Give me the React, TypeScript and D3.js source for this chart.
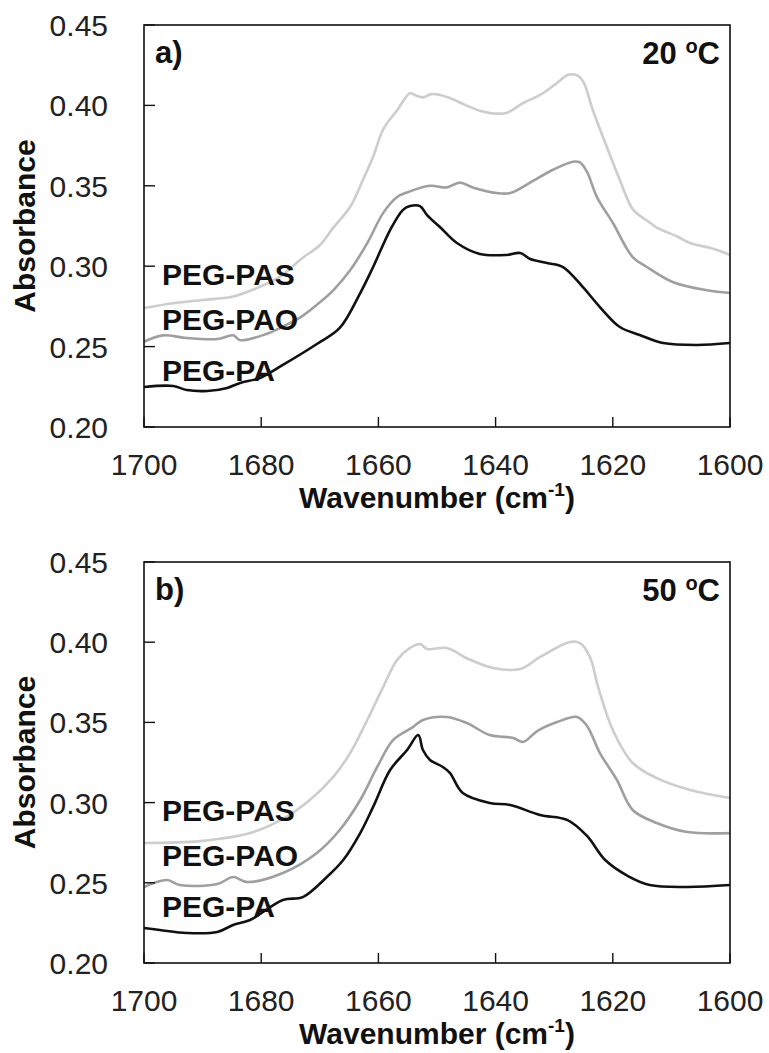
import React from "react";
import * as d3 from "d3";

type Pt = [number, number];

// x ticks and y ticks
const xTicks = [1700, 1680, 1660, 1640, 1620, 1600];
const yTicks = [0.2, 0.25, 0.3, 0.35, 0.4, 0.45];
const seriesNames = ["PEG-PAS", "PEG-PAO", "PEG-PA"];
const seriesColors = ["#cdcdcd", "#9f9f9f", "#111111"];
const labelLevels = [0.2883, 0.2606, 0.2285];

// Panel a) 20 oC  [wavenumber, absorbance]
const a_PAS: Pt[] = [
  [1700, 0.274], [1695, 0.277], [1690, 0.279], [1685, 0.281], [1681, 0.286], [1677, 0.293],
  [1673, 0.305], [1670, 0.313], [1667.7, 0.324], [1664.8, 0.337], [1662.6, 0.354], [1660.9, 0.368],
  [1659.2, 0.385], [1656.8, 0.397], [1654.6, 0.4075], [1653.5, 0.406], [1652.4, 0.405], [1651, 0.407],
  [1649.5, 0.4065], [1647.8, 0.4046], [1645, 0.4], [1642.5, 0.3965], [1640.4, 0.395], [1638, 0.3955],
  [1635.3, 0.4015], [1632.4, 0.4065], [1629.5, 0.414], [1627.6, 0.419], [1626, 0.4185], [1625, 0.4145],
  [1623.4, 0.397], [1621, 0.374], [1618.8, 0.3536], [1616.5, 0.335], [1614, 0.328], [1612.5, 0.324],
  [1609, 0.3185], [1606.8, 0.3144], [1603, 0.311], [1600, 0.307],
];
const a_PAO: Pt[] = [
  [1700, 0.253], [1696.8, 0.257], [1692.7, 0.2553], [1687.5, 0.2547], [1684.8, 0.257], [1683.6, 0.254],
  [1679, 0.258], [1676, 0.263], [1673, 0.269], [1670.5, 0.276], [1667.7, 0.285], [1664.8, 0.2976],
  [1661.9, 0.3144], [1659.2, 0.333], [1656.8, 0.343], [1655, 0.346], [1651.2, 0.35], [1648.3, 0.349],
  [1646.1, 0.352], [1643.9, 0.349], [1639.8, 0.3455], [1637.5, 0.3455], [1634.1, 0.352], [1630.2, 0.36],
  [1626.8, 0.365], [1625.6, 0.3645], [1624.4, 0.3586], [1622.7, 0.343], [1620, 0.327], [1616.6, 0.3057],
  [1614.2, 0.2995], [1609.7, 0.29], [1603.9, 0.285], [1600, 0.2833],
];
const a_PA: Pt[] = [
  [1700, 0.2249], [1695, 0.2255], [1692.7, 0.223], [1689.2, 0.2224], [1685.8, 0.2243], [1683.6, 0.2274],
  [1680.2, 0.2305], [1676.3, 0.2386], [1670.5, 0.2516], [1666.6, 0.2616], [1663.1, 0.2833], [1660.9, 0.2995],
  [1658, 0.3225], [1655.8, 0.335], [1654.6, 0.3374], [1652.9, 0.3374], [1651.7, 0.3318], [1649.5, 0.3244],
  [1646.6, 0.3144], [1642.7, 0.3076], [1638.1, 0.307], [1635.8, 0.3082], [1634.1, 0.3045], [1631.2, 0.302],
  [1628.5, 0.2995], [1625.1, 0.287], [1622.2, 0.2746], [1618.8, 0.2622], [1615.4, 0.2572], [1611.4, 0.2522],
  [1605.6, 0.251], [1600, 0.2522],
];

// Panel b) 50 oC
const b_PAS: Pt[] = [
  [1700, 0.2748], [1690.4, 0.276], [1681.9, 0.281], [1676.3, 0.2898], [1671.7, 0.3016], [1667.7, 0.316],
  [1664.8, 0.331], [1661.9, 0.3515], [1659.2, 0.372], [1656.8, 0.389], [1654.6, 0.3964], [1652.9, 0.3989],
  [1651.7, 0.3958], [1648.3, 0.3964], [1644.9, 0.39], [1640.4, 0.3839], [1635.8, 0.3833], [1632.4, 0.3908],
  [1627.3, 0.4001], [1625.6, 0.3995], [1623.9, 0.3908], [1622.5, 0.372], [1620, 0.3453], [1616.6, 0.3247],
  [1612.5, 0.3153], [1606.8, 0.3079], [1600, 0.3029],
];
const b_PAO: Pt[] = [
  [1700, 0.2474], [1696.1, 0.2517], [1693.9, 0.2486], [1687.5, 0.2492], [1684.8, 0.2536], [1682.4, 0.2505],
  [1676.3, 0.2561], [1670.5, 0.2686], [1666.6, 0.2829], [1663.1, 0.3016], [1660.2, 0.3222], [1657.5, 0.339],
  [1654.1, 0.3471], [1652.4, 0.3515], [1648.3, 0.3534], [1644.9, 0.3496], [1641, 0.3421], [1637, 0.3403],
  [1635.3, 0.3378], [1632.9, 0.3446], [1629.5, 0.3502], [1626.1, 0.3534], [1624.4, 0.3478], [1622.2, 0.3309],
  [1619.3, 0.3141], [1616.6, 0.2954], [1612.5, 0.2873], [1607.3, 0.2817], [1600, 0.281],
];
const b_PA: Pt[] = [
  [1700, 0.2218], [1697.3, 0.2206], [1692.7, 0.2187], [1687.5, 0.2193], [1684.8, 0.2237], [1681.9, 0.2268],
  [1676.3, 0.2393], [1672.9, 0.2411], [1668.8, 0.2536], [1666, 0.2642], [1663.1, 0.281], [1660.9, 0.2973],
  [1658, 0.3203], [1655.1, 0.3328], [1653.2, 0.3421], [1652.4, 0.3328], [1651.2, 0.3266], [1649, 0.3222],
  [1647.8, 0.3185], [1645.6, 0.306], [1641, 0.2998], [1637.5, 0.2985], [1632.4, 0.2923], [1627.8, 0.2892],
  [1624.4, 0.2792], [1621.3, 0.2642], [1617.4, 0.2542], [1613.7, 0.2486], [1607.3, 0.2474], [1600, 0.2486],
];

const panels = [
  { tag: "a)", temp: "20", series: [a_PAS, a_PAO, a_PA], top: 25, bottom: 427 },
  { tag: "b)", temp: "50", series: [b_PAS, b_PAO, b_PA], top: 562, bottom: 963 },
];

const FONT = "'Liberation Sans', Arial, sans-serif";
const LEFT = 144;
const RIGHT = 730;

function Panel({ p }: { p: (typeof panels)[number] }) {
  const x = d3.scaleLinear().domain([1700, 1600]).range([LEFT, RIGHT]);
  const y = d3.scaleLinear().domain([0.2, 0.45]).range([p.bottom, p.top]);
  const line = d3
    .line<Pt>()
    .x((d) => x(d[0]))
    .y((d) => y(d[1]))
    .curve(d3.curveCatmullRom.alpha(0.5));
  return (
    <g>
      {p.series.map((s, i) => (
        <path key={i} d={line(s) || ""} fill="none" stroke={seriesColors[i]} strokeWidth={2.6} strokeLinejoin="round" />
      ))}
      <rect x={LEFT} y={p.top} width={RIGHT - LEFT} height={p.bottom - p.top} fill="none" stroke="#111" strokeWidth={1.6} />
      {xTicks.map((t) => (
        <g key={t}>
          <line x1={x(t)} x2={x(t)} y1={p.bottom} y2={p.bottom - 10} stroke="#111" strokeWidth={1.4} />
          <text x={x(t)} y={p.bottom + 48} textAnchor="middle" fontFamily={FONT} fontSize={30} fill="#222">
            {t}
          </text>
        </g>
      ))}
      {yTicks.map((t) => (
        <g key={t}>
          <line x1={LEFT} x2={LEFT + 11} y1={y(t)} y2={y(t)} stroke="#111" strokeWidth={1.4} />
          <text x={108} y={y(t) + 11} textAnchor="end" fontFamily={FONT} fontSize={30} fill="#222">
            {t.toFixed(2)}
          </text>
        </g>
      ))}
      {seriesNames.map((n, i) => (
        <text key={n} x={162} y={y(labelLevels[i])} fontFamily={FONT} fontWeight="bold" fontSize={30} fill="#111">
          {n}
        </text>
      ))}
      <text x={155} y={p.top + 38} fontFamily={FONT} fontWeight="bold" fontSize={31} fill="#111">
        {p.tag}
      </text>
      <text x={720} y={p.top + 39} textAnchor="end" fontFamily={FONT} fontWeight="bold" fontSize={31} fill="#111">
        {p.temp + " "}
        <tspan fontSize={20} dy={-11}>o</tspan>
        <tspan dy={11}>C</tspan>
      </text>
      <text
        x={(LEFT + RIGHT) / 2}
        y={p.bottom + 81}
        textAnchor="middle"
        fontFamily={FONT}
        fontWeight="bold"
        fontSize={30}
        fill="#111"
      >
        Wavenumber (cm
        <tspan fontSize={19} dy={-12}>-1</tspan>
        <tspan dy={12}>)</tspan>
      </text>
      <text
        transform={`translate(35, ${(p.top + p.bottom) / 2}) rotate(-90)`}
        textAnchor="middle"
        fontFamily={FONT}
        fontWeight="bold"
        fontSize={30}
        fill="#111"
      >
        Absorbance
      </text>
    </g>
  );
}

export default function App() {
  return (
    <svg width={769} height={1053} style={{ position: "absolute", left: 0, top: 0, background: "#fff" }}>
      <rect width={769} height={1053} fill="#fff" />
      {panels.map((p) => (
        <Panel key={p.tag} p={p} />
      ))}
    </svg>
  );
}
